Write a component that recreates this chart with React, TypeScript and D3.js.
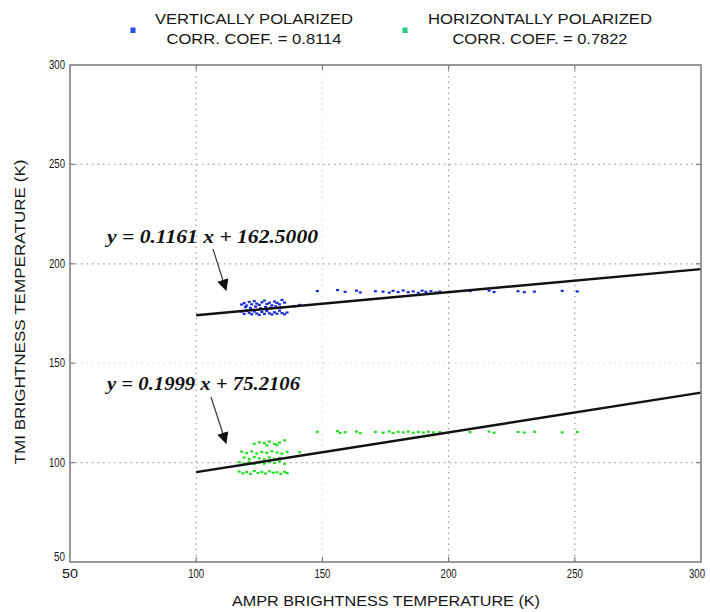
import React from "react";
import * as d3 from "d3";

const xTicks = [50, 100, 150, 200, 250, 300];
const yTicks = [50, 100, 150, 200, 250, 300];
const faintGrid = [150];

const legendItems = [
  { title: "VERTICALLY POLARIZED", coef: "CORR. COEF. = 0.8114", color: "#2a4fe8" },
  { title: "HORIZONTALLY POLARIZED", coef: "CORR. COEF. = 0.7822", color: "#1fcf86" },
];

const vFit = { slope: 0.1161, intercept: 162.5, label: "y = 0.1161 x + 162.5000" };
const hFit = { slope: 0.1999, intercept: 75.2106, label: "y = 0.1999 x + 75.2106" };
const fitRange = [100, 300];

const verticalPoints: [number, number][] = [
  [118, 179.5], [119, 180.2], [120, 179.0], [121, 180.8], [122, 179.6], [123, 181.2], [124, 180.0],
  [125, 179.3], [126, 180.6], [127, 181.5], [128, 179.8], [129, 180.4], [130, 179.1], [131, 181.0],
  [132, 180.3], [133, 179.6], [134, 181.8], [135, 180.5], [119.5, 178.2], [121.5, 177.8], [123.5, 178.5],
  [125.5, 177.6], [127.5, 178.3], [129.5, 177.9], [131.5, 178.6], [133.5, 178.0],
  [120, 176.5], [121, 175.3], [122, 174.6], [123, 176.0], [124, 175.0], [125, 174.3], [126, 175.8],
  [127, 174.8], [128, 176.2], [129, 175.1], [130, 174.5], [131, 175.6], [132, 174.9], [133, 176.4],
  [134, 175.2], [118, 176.0], [119, 174.8], [135, 174.6], [136, 175.5], [139, 178.6], [141, 179.3],
  [148, 186.3], [156, 186.8], [159, 185.9], [163.5, 186.5], [165, 185.6], [171, 186.2], [174, 186.0],
  [176.5, 185.5], [178, 186.4], [180, 185.8], [182, 186.6], [184, 185.7], [186, 186.1], [188, 185.4],
  [189.5, 186.5], [191, 185.9], [193, 186.2], [195, 185.6], [196.5, 186.0], [208.5, 186.3], [216, 186.5],
  [218, 185.8], [227.5, 186.2], [230, 185.7], [234, 186.0], [245, 186.4], [251, 186.1],
];

const horizontalPoints: [number, number][] = [
  [123, 109.5], [125, 110.2], [127, 109.8], [129, 110.6], [131, 109.4], [133, 110.1], [135, 111.2],
  [128, 108.7], [132, 108.9],
  [118, 105.5], [120, 104.8], [122, 105.6], [124, 104.6], [126, 105.3], [128, 104.9], [130, 105.7],
  [132, 105.1], [134, 104.5], [136, 105.4], [141, 105.2],
  [119, 102.5], [121, 101.9], [123, 102.8], [125, 102.1], [127, 101.6], [129, 102.6], [131, 101.8], [133, 102.3],
  [117, 100.2], [119, 99.6], [121, 100.4], [123, 99.3], [125, 100.0], [127, 99.5], [129, 100.3],
  [131, 99.8], [133, 100.6], [135, 99.4],
  [117, 95.5], [118.5, 94.6], [120, 95.2], [121.5, 94.3], [123, 95.8], [124.5, 94.8], [126, 95.3],
  [127.5, 94.5], [129, 95.6], [130.5, 94.9], [132, 95.1], [133.5, 94.4], [135, 95.4], [136, 94.7],
  [148, 115.5], [156, 115.8], [157, 114.9], [159, 115.3], [163.5, 115.6], [165, 114.8], [171, 115.4],
  [174, 115.0], [176.5, 115.7], [178, 114.9], [180, 115.5], [182, 115.2], [184, 115.6], [186, 115.0],
  [188, 115.4], [190, 115.1], [192, 115.5], [194, 115.2], [196.5, 115.4], [208.5, 115.3], [216, 115.6],
  [218, 115.0], [227.5, 115.4], [230, 115.1], [234, 115.5], [245, 115.2], [251, 115.4],
];

const vColor = "#1a2ad6";
const hColor = "#22dd22";

export default function App() {
  const W = 710, H = 612;
  const L = 70, R = 701, T = 65, B = 562;
  const x = d3.scaleLinear().domain([50, 300]).range([L, R]);
  const y = d3.scaleLinear().domain([50, 300]).range([B, T]);
  const fitPath = (f: typeof vFit) =>
    d3.line<number>().x((d) => x(d)).y((d) => y(f.slope * d + f.intercept))(fitRange) || "";
  const font = "'Liberation Sans', Arial, sans-serif";
  const axisCol = "#808080";
  const txt = "#151515";

  return (
    <svg width={W} height={H} style={{ position: "absolute", left: 0, top: 0, background: "#fff" }}>
      <defs>
        <marker id="ah" viewBox="0 0 10 10" refX="9" refY="5" markerWidth="9" markerHeight="9" orient="auto">
          <path d="M0,0 L10,5 L0,10 z" fill="#111" />
        </marker>
      </defs>
      <rect x={0} y={0} width={W} height={H} fill="#fff" />
      {legendItems.map((it, i) => {
        const cx = i === 0 ? 254 : 540;
        const sx = i === 0 ? 133 : 405;
        return (
          <g key={i} fontFamily={font} fontSize={15} fill={txt}>
            <rect x={sx - 2.5} y={27.5} width={5} height={5.5} fill={it.color} />
            <text x={cx} y={23.5} textAnchor="middle" textLength={i === 0 ? 198 : 224} lengthAdjust="spacingAndGlyphs">{it.title}</text>
            <text x={cx} y={44} textAnchor="middle" textLength={175} lengthAdjust="spacingAndGlyphs">{it.coef}</text>
          </g>
        );
      })}
      {xTicks.slice(1, -1).map((t) => (
        <line key={"gx" + t} x1={x(t)} x2={x(t)} y1={T} y2={B}
          stroke={faintGrid.includes(t) ? "#dcdcdc" : "#a0a0a0"} strokeWidth={1.2} strokeDasharray="1.5,4" />
      ))}
      {yTicks.slice(1, -1).map((t) => (
        <line key={"gy" + t} x1={L} x2={R} y1={y(t)} y2={y(t)}
          stroke={faintGrid.includes(t) ? "#dcdcdc" : "#a0a0a0"} strokeWidth={1.2} strokeDasharray="1.5,4" />
      ))}
      {verticalPoints.map(([a, b], i) => (
        <rect key={"v" + i} x={x(a) - 1.5} y={y(b) - 1.1} width={3} height={2.2} fill={vColor} />
      ))}
      {horizontalPoints.map(([a, b], i) => (
        <rect key={"h" + i} x={x(a) - 1.5} y={y(b) - 1.1} width={3} height={2.2} fill={hColor} />
      ))}
      <path d={fitPath(vFit)} stroke="#111" strokeWidth={2.4} fill="none" />
      <path d={fitPath(hFit)} stroke="#111" strokeWidth={2.4} fill="none" />
      <g fontFamily="'Liberation Serif', 'Times New Roman', serif" fontStyle="italic" fontWeight="bold" fontSize={19} fill="#111">
        <text x={107} y={243} textLength={211} lengthAdjust="spacingAndGlyphs">{vFit.label}</text>
        <text x={107} y={390} textLength={193} lengthAdjust="spacingAndGlyphs">{hFit.label}</text>
      </g>
      <line x1={213} y1={249} x2={226} y2={290} stroke="#444" strokeWidth={1.3} markerEnd="url(#ah)" />
      <line x1={211} y1={397} x2={226} y2={443} stroke="#444" strokeWidth={1.3} markerEnd="url(#ah)" />
      <rect x={L} y={T} width={R - L} height={B - T} fill="none" stroke={axisCol} strokeWidth={1.6} />
      {xTicks.slice(1, -1).map((t) => (
        <g key={"tx" + t}>
          <line x1={x(t)} x2={x(t)} y1={B} y2={B - 5} stroke={axisCol} strokeWidth={1.2} />
          <line x1={x(t)} x2={x(t)} y1={T} y2={T + 5} stroke={axisCol} strokeWidth={1.2} />
        </g>
      ))}
      {yTicks.slice(1, -1).map((t) => (
        <g key={"ty" + t}>
          <line x1={L} x2={L + 5} y1={y(t)} y2={y(t)} stroke={axisCol} strokeWidth={1.2} />
          <line x1={R} x2={R - 5} y1={y(t)} y2={y(t)} stroke={axisCol} strokeWidth={1.2} />
        </g>
      ))}
      <g fontFamily={font} fontSize={12} fill={txt}>
        {xTicks.map((t) => (
          <text key={"lx" + t} x={Math.min(x(t), W - 13)} y={B + 16} textAnchor="middle" textLength={16} lengthAdjust="spacingAndGlyphs">{t}</text>
        ))}
        {yTicks.map((t) => (
          <text key={"ly" + t} x={L - 5} y={y(t) + (t === 50 ? -1 : 4)} textAnchor="end"
            textLength={t === 50 ? 11 : 16} lengthAdjust="spacingAndGlyphs">{t}</text>
        ))}
      </g>
      <text x={386} y={606} textAnchor="middle" fontFamily={font} fontSize={15} fill={txt}
        textLength={308} lengthAdjust="spacingAndGlyphs">AMPR BRIGHTNESS TEMPERATURE (K)</text>
      <text transform={`translate(25,${312}) rotate(-90)`} textAnchor="middle" fontFamily={font} fontSize={15} fill={txt}
        textLength={305} lengthAdjust="spacingAndGlyphs">TMI BRIGHTNESS TEMPERATURE (K)</text>
    </svg>
  );
}
